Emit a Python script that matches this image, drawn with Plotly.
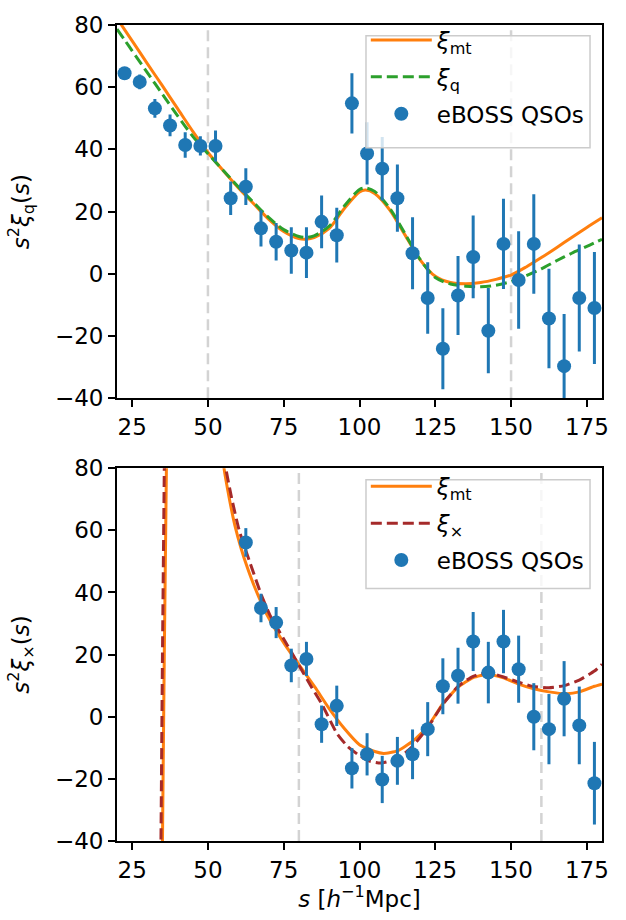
import plotly.graph_objects as go

# ---------------- data: top panel (quasar auto-correlation) ----------------
s_q = [22.5, 27.5, 32.5, 37.5, 42.5, 47.5, 52.5, 57.5, 62.5, 67.5, 72.5, 77.5,
       82.5, 87.5, 92.5, 97.5, 102.5, 107.5, 112.5, 117.5, 122.5, 127.5, 132.5,
       137.5, 142.5, 147.5, 152.5, 157.5, 162.5, 167.5, 172.5, 177.5]
xi_q_data = [64.5, 61.7, 53.2, 47.7, 41.4, 41.1, 41.1, 24.3, 28.0, 14.6, 10.3, 7.5,
             6.8, 16.7, 12.4, 54.8, 38.7, 33.8, 24.3, 6.6, -7.8, -24.1, -7.0,
             5.4, -18.3, 9.6, -2.0, 9.6, -14.4, -29.7, -7.8, -11.0]
xi_q_err = [1.5, 2.4, 3.0, 3.5, 4.1, 3.1, 5.0, 5.4, 5.9, 5.8, 6.0, 7.5,
            8.2, 8.5, 8.8, 9.7, 10.0, 10.2, 10.8, 11.6, 11.5, 13.0, 12.7,
            13.3, 13.7, 14.5, 15.7, 16.0, 16.0, 16.8, 17.2, 18.0]

s_top_curve = [20, 22.5, 25, 30, 35, 40, 45, 50, 55, 60, 65, 70, 75, 80, 82.5, 85,
               90, 95, 100, 102, 105, 110, 115, 120, 125, 130, 135, 140, 145, 150,
               155, 160, 165, 170, 175, 180]
xi_mt_top = [82.2, 78.5, 74.9, 67.6, 60.4, 53.1, 45.8, 39.0, 33.2, 27.7, 22.6, 17.6,
             13.6, 11.3, 11.1, 11.6, 14.6, 21.0, 26.3, 26.9, 25.8, 20.5, 12.5, 4.5,
             -0.8, -2.8, -3.2, -2.8, -1.8, -0.4, 2.2, 5.2, 8.4, 11.7, 14.9, 18.0]
xi_q_model = [78.7, 75.2, 71.7, 64.7, 57.7, 50.8, 44.2, 38.6, 33.3, 28.0, 23.0, 18.1,
              14.2, 12.0, 11.7, 12.2, 15.3, 21.8, 27.1, 27.6, 26.5, 21.0, 12.9, 4.6,
              -1.2, -3.3, -4.0, -4.2, -3.7, -2.5, -0.6, 1.6, 4.2, 6.6, 8.8, 11.1]

# ---------------- data: bottom panel (cross-correlation) ----------------
s_x = [62.5, 67.5, 72.5, 77.5, 82.5, 87.5, 92.5, 97.5, 102.5, 107.5, 112.5, 117.5,
       122.5, 127.5, 132.5, 137.5, 142.5, 147.5, 152.5, 157.5, 162.5, 167.5, 172.5, 177.5]
xi_x_data = [56.1, 35.0, 30.3, 16.5, 18.6, -2.4, 3.5, -16.6, -12.1, -20.2, -14.2, -12.1,
             -4.0, 9.8, 13.2, 24.2, 14.2, 24.2, 15.3, 0.0, -4.0, 5.8, -2.8, -21.4]
xi_x_err = [4.6, 4.6, 5.0, 5.4, 5.5, 6.0, 6.5, 6.5, 6.8, 7.6, 7.7, 8.0,
            8.7, 9.0, 9.0, 9.5, 9.9, 10.2, 10.8, 10.8, 11.3, 12.1, 12.5, 13.3]

# model curves (None separates the branch near the pole from the main branch)
s_mt_bot = [34.8, 35.0, 35.6, 36.3, 36.5, None,
            54.9, 55.3, 57.0, 58.9, 61.0, 63.0, 65.5, 69.4, 75.4, 80, 85.3, 90, 95, 100,
            105, 108, 112.5, 117.5, 122.5, 127.5, 132.5, 137.5, 142.5, 147.5,
            152.5, 157.5, 162.5, 168.5, 172.5, 177.5, 180]
xi_mt_bot = [-60, -40, 20, 80, 100, None,
             84, 80, 70.5, 61.5, 54.0, 48.0, 41.5, 33.0, 23.2, 16.8, 9.5, 2.6, -3.8, -9.0,
             -11.2, -11.8, -11.0, -7.9, -3.2, 4.2, 9.5, 12.6, 13.7, 12.5,
             10.5, 9.0, 8.0, 7.4, 8.0, 9.8, 10.5]
s_x_model = [34.3, 34.5, 35.0, 35.6, 35.8, None,
             55.5, 55.9, 57.8, 60.3, 63.9, 67.7, 70.5, 76.1, 80, 84.2, 87.5, 92.5,
             96, 99.4, 103, 107, 112.5, 117.5, 122.5, 127.5, 132.5, 137.5, 142.5,
             147.5, 152.5, 157.5, 162.5, 167.5, 172.5, 177.5, 180]
xi_x_model = [-60, -40, 20, 80, 100, None,
              84, 80, 70.5, 60, 49.5, 39, 32.6, 23.2, 16.6, 9.5, 4.2, -5.3,
              -9.5, -12.1, -14.2, -14.9, -13.5, -9.5, -3.5, 4.0, 9.8, 13.0, 14.2,
              12.8, 11.1, 9.7, 9.3, 10.0, 11.8, 14.7, 16.9]

top_vlines = [50, 150]
bot_vlines = [80, 160]

x_range = [20, 180]
y_range = [-40, 80]
x_ticks = [25, 50, 75, 100, 125, 150, 175]
y_ticks = [-40, -20, 0, 20, 40, 60, 80]

# ---------------- styles ----------------
ORANGE = "#ff7f0e"
GREEN = "#2ca02c"
BROWN = "#a52a2a"
BLUE = "#1f77b4"
FONT = "DejaVu Sans"
FS = 23

fig = go.Figure()

# top panel
fig.add_trace(go.Scatter(x=s_top_curve, y=xi_mt_top, mode="lines", name="<i>ξ</i><sub>mt</sub>",
                         line=dict(color=ORANGE, width=3, shape="spline", smoothing=0.8),
                         legendgroup="a1", xaxis="x", yaxis="y", legend="legend"))
fig.add_trace(go.Scatter(x=s_top_curve, y=xi_q_model, mode="lines", name="<i>ξ</i><sub>q</sub>",
                         line=dict(color=GREEN, width=3, dash="11px,5px", shape="spline", smoothing=0.8),
                         legendgroup="a2", xaxis="x", yaxis="y", legend="legend"))
fig.add_trace(go.Scatter(x=s_q, y=xi_q_data, mode="markers", name="eBOSS QSOs",
                         marker=dict(color=BLUE, size=14),
                         error_y=dict(type="data", array=xi_q_err, color=BLUE, thickness=3, width=0),
                         legendgroup="a3", xaxis="x", yaxis="y", legend="legend"))

# bottom panel
fig.add_trace(go.Scatter(x=s_mt_bot, y=xi_mt_bot, mode="lines", name="<i>ξ</i><sub>mt</sub>",
                         line=dict(color=ORANGE, width=3, shape="spline", smoothing=0.5),
                         connectgaps=False, legendgroup="b1", xaxis="x2", yaxis="y2", legend="legend2"))
fig.add_trace(go.Scatter(x=s_x_model, y=xi_x_model, mode="lines", name="<i>ξ</i><sub>×</sub>",
                         line=dict(color=BROWN, width=3, dash="11px,5px", shape="spline", smoothing=0.5),
                         connectgaps=False, legendgroup="b2", xaxis="x2", yaxis="y2", legend="legend2"))
fig.add_trace(go.Scatter(x=s_x, y=xi_x_data, mode="markers", name="eBOSS QSOs",
                         marker=dict(color=BLUE, size=14),
                         error_y=dict(type="data", array=xi_x_err, color=BLUE, thickness=3, width=0),
                         legendgroup="b3", xaxis="x2", yaxis="y2", legend="legend2"))

for v in top_vlines:
    fig.add_shape(type="line", xref="x", yref="y domain", x0=v, x1=v, y0=0, y1=1,
                  line=dict(color="#d3d3d3", width=2.5, dash="11px,6px"), layer="below")
for v in bot_vlines:
    fig.add_shape(type="line", xref="x2", yref="y2 domain", x0=v, x1=v, y0=0, y1=1,
                  line=dict(color="#d3d3d3", width=2.5, dash="11px,6px"), layer="below")

# legend frames (semi-transparent white boxes, drawn over the data like matplotlib's)
legend_frames = [dict(x0=0.5134, x1=0.9753, y0=0.8496, y1=0.9868),
                 dict(x0=0.5134, x1=0.9753, y0=0.3093, y1=0.4428)]
for fr in legend_frames:
    fig.add_shape(type="rect", xref="paper", yref="paper", layer="above",
                  fillcolor="rgba(255,255,255,0.8)", line=dict(color="#cccccc", width=1.5), **fr)

axis_common = dict(showline=True, linecolor="black", linewidth=1.8, mirror=True,
                   ticks="outside", ticklen=7, tickwidth=1.8, tickcolor="black",
                   showgrid=False, zeroline=False,
                   tickfont=dict(family=FONT, size=FS, color="black"))

legend_common = dict(font=dict(family=FONT, size=FS, color="black"),
                     bgcolor="rgba(0,0,0,0)", borderwidth=0,
                     itemwidth=61, xanchor="left", yanchor="top", tracegroupgap=4)

fig.update_layout(
    width=626, height=920,
    margin=dict(l=117, r=24, t=12, b=77),
    paper_bgcolor="white", plot_bgcolor="white",
    font=dict(family=FONT, size=FS, color="black"),
    xaxis=dict(domain=[0, 1], range=x_range, tickvals=x_ticks, anchor="y", **axis_common),
    yaxis=dict(domain=[0.5427, 1], range=y_range, tickvals=y_ticks, anchor="x",
               title=dict(text="<i>s</i><sup>2</sup><i>ξ</i><sub>q</sub>(<i>s</i>)",
                          font=dict(family=FONT, size=FS), standoff=19),
               **axis_common),
    xaxis2=dict(domain=[0, 1], range=x_range, tickvals=x_ticks, anchor="y2",
                title=dict(text="<i>s</i> [<i>h</i><sup>−1</sup>Mpc]",
                           font=dict(family=FONT, size=FS), standoff=9),
                **axis_common),
    yaxis2=dict(domain=[0, 0.4569], range=y_range, tickvals=y_ticks, anchor="x2",
                title=dict(text="<i>s</i><sup>2</sup><i>ξ</i><sub>×</sub>(<i>s</i>)",
                           font=dict(family=FONT, size=FS), standoff=19),
                **axis_common),
    legend=dict(x=0.513, y=1.008, **legend_common),
    legend2=dict(x=0.513, y=0.461, **legend_common),
    showlegend=True,
)

fig.write_html("out.html")
